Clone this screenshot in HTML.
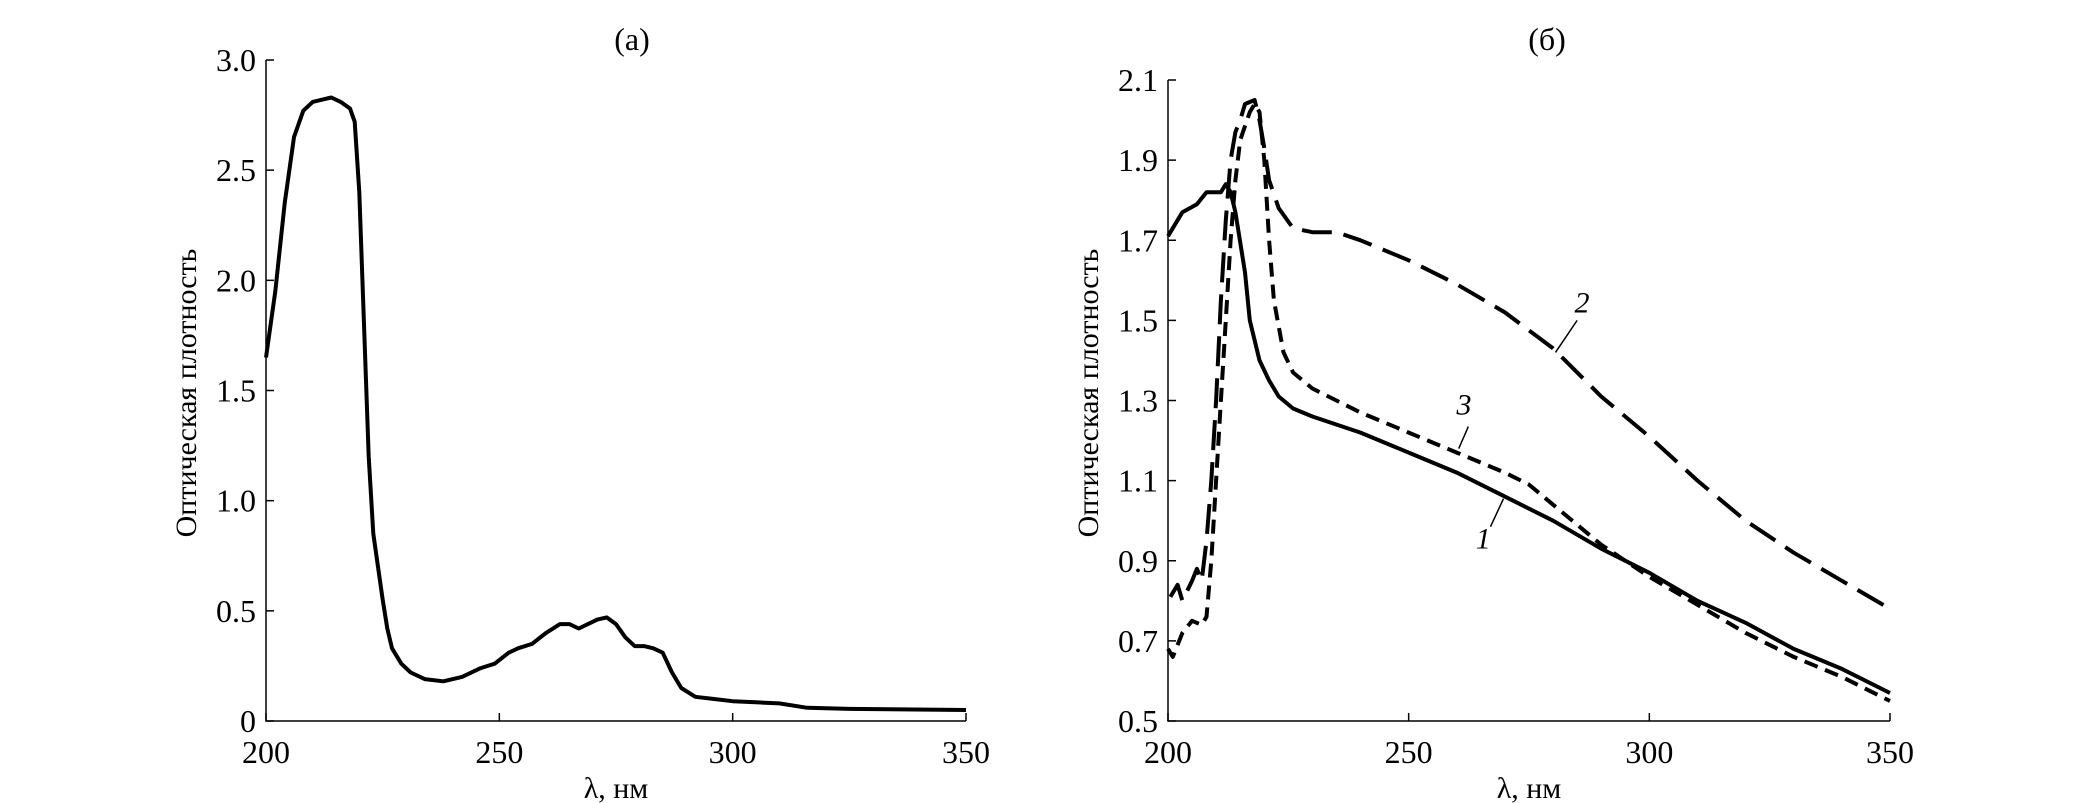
<!DOCTYPE html>
<html><head><meta charset="utf-8"><style>
html,body{margin:0;padding:0;background:#fff;}
svg{display:block;}
svg text{font-family:"Liberation Serif","DejaVu Serif",serif;}
</style></head><body>
<svg id="chart" width="2079" height="803" viewBox="0 0 2079 803" xmlns="http://www.w3.org/2000/svg" font-family="Liberation Serif, serif"></svg>
<script>
// Panel (a) data
const aX = [200,202,204,206,208,210,212,214,216,218,219,220,221,222,223,224,225,226,227,229,231,234,238,242,246,249,252,254,257,260,263,265,267,269,271,273,275,277,279,281,283,285,287,289,292,296,300,305,310,316,325,350];
const aY = [1.65,1.95,2.35,2.65,2.77,2.81,2.82,2.83,2.81,2.78,2.72,2.4,1.8,1.2,0.85,0.7,0.55,0.42,0.33,0.26,0.22,0.19,0.18,0.2,0.24,0.26,0.31,0.33,0.35,0.4,0.44,0.44,0.42,0.44,0.46,0.47,0.44,0.38,0.34,0.34,0.33,0.31,0.22,0.15,0.11,0.1,0.09,0.085,0.08,0.06,0.055,0.05];
const aYTicks = [0,0.5,1.0,1.5,2.0,2.5,3.0];
const aYLabels = ["0","0.5","1.0","1.5","2.0","2.5","3.0"];
const xTicks = [200,250,300,350];
// Panel (б) data
const c1X = [200,203,206,208,211,212,213,214,216,217,219,221,223,226,230,240,250,260,270,280,290,300,310,320,330,340,350];
const c1Y = [1.71,1.77,1.79,1.82,1.82,1.84,1.82,1.77,1.62,1.5,1.4,1.35,1.31,1.28,1.26,1.22,1.17,1.12,1.06,1.0,0.93,0.87,0.8,0.745,0.68,0.63,0.57];
const c2X = [200.5,202,203,205,206,207,208,209,210,211,212,213,214,215,216,218,219,220,221,223,226,230,235,240,250,260,270,280,290,300,310,320,330,340,350];
const c2Y = [0.81,0.84,0.8,0.85,0.88,0.85,0.95,1.1,1.3,1.55,1.75,1.9,1.97,2.0,2.04,2.05,2.0,1.93,1.85,1.78,1.73,1.72,1.72,1.7,1.65,1.59,1.52,1.43,1.31,1.21,1.1,1.0,0.92,0.85,0.78];
const c3X = [200,201,203,205,207,208,209,210,211,212,213,214,215,217,218,219,220,221,222,224,226,230,240,250,260,270,275,280,290,300,310,320,330,340,350];
const c3Y = [0.68,0.66,0.72,0.75,0.74,0.76,0.9,1.1,1.3,1.5,1.7,1.85,1.95,2.02,2.04,2.02,1.9,1.7,1.55,1.42,1.37,1.33,1.27,1.22,1.17,1.12,1.09,1.04,0.94,0.86,0.79,0.72,0.66,0.61,0.55];
const bYTicks = [0.5,0.7,0.9,1.1,1.3,1.5,1.7,1.9,2.1];
const bYLabels = ["0.5","0.7","0.9","1.1","1.3","1.5","1.7","1.9","2.1"];

const svg = document.getElementById('chart');
const NS = 'http://www.w3.org/2000/svg';
const FF = 'Liberation Serif, DejaVu Serif, serif';
function mk(tag, attrs, parent){const e=document.createElementNS(NS,tag);for(const k in attrs)e.setAttribute(k,attrs[k]);if(tag==='text')e.setAttribute('font-family',FF);(parent||svg).appendChild(e);return e;}

function panel(p){
  const sx=v=>p.x0+(v-200)/150*(p.x1-p.x0);
  const sy=v=>p.y0-(v-p.ymin)/(p.ymax-p.ymin)*(p.y0-p.y1);
  const g=mk('g',{});
  
  
  const ax=mk('path',{d:`M${p.x0},${p.y1}V${p.y0}H${p.x1}`,stroke:'#000','stroke-width':1.5,fill:'none'},g);
  
  
  p.yt.forEach((v,i)=>{
    const t=mk('line',{x1:p.x0,x2:p.x0+8,y1:sy(v),y2:sy(v),stroke:'#000','stroke-width':1.5},g);
    
    
    const l=mk('text',{x:p.x0-10,y:sy(v)+11,'text-anchor':'end','font-size':32},g);
    l.textContent=p.yl[i];
    
    
  });
  xTicks.forEach(v=>{
    const t=mk('line',{x1:sx(v),x2:sx(v),y1:p.y0,y2:p.y0-8,stroke:'#000','stroke-width':1.5},g);
    
    
    const l=mk('text',{x:sx(v),y:p.y0+42,'text-anchor':'middle','font-size':32},g);
    l.textContent=String(v);
    
    
  });
  const xt=mk('text',{x:(p.x0+p.x1)/2,y:798,'text-anchor':'middle','font-size':30},g);
  xt.textContent='λ, нм';
  
  
  const yt=mk('text',{x:0,y:0,'text-anchor':'middle','font-size':30,transform:`translate(${p.ylx},393) rotate(-90)`},g);
  yt.textContent='Оптическая плотность';
  
  
  const ti=mk('text',{x:p.tx,y:50,'text-anchor':'middle','font-size':32},g);
  ti.textContent=p.title;
  
  
  p.series.forEach(s=>{
    const d=s.x.map((v,i)=>(i?'L':'M')+sx(v).toFixed(1)+','+sy(s.y[i]).toFixed(1)).join('');
    const pa=mk('path',{d,stroke:'#000','stroke-width':4,fill:'none','stroke-linejoin':'round','stroke-dasharray':s.dash},g);
    
    
  });
  (p.labels||[]).forEach(L=>{
    const ln=mk('line',{x1:sx(L.lx1),y1:sy(L.ly1),x2:sx(L.lx2),y2:sy(L.ly2),stroke:'#000','stroke-width':1.5},g);
    
    
    const t=mk('text',{x:sx(L.x),y:sy(L.y),'text-anchor':'middle','font-size':30,'font-style':'italic'},g);
    t.textContent=L.t;
    
    
  });
}
panel({name:'panel-a',x0:266,x1:966,y0:721,y1:60,ymin:0,ymax:3,yt:aYTicks,yl:aYLabels,ylx:196,tx:632,title:'(а)',
  series:[{name:'curve-a',x:aX,y:aY,dash:'none'}]});
panel({name:'panel-b',x0:1168,x1:1890,y0:721,y1:80,ymin:0.5,ymax:2.1,yt:bYTicks,yl:bYLabels,ylx:1098,tx:1547,title:'(б)',
  series:[{name:'curve-1',x:c1X,y:c1Y,dash:'none'},{name:'curve-2',x:c2X,y:c2Y,dash:'30 12'},{name:'curve-3',x:c3X,y:c3Y,dash:'14 8'}],
  labels:[{t:'2',x:286,y:1.52,lx1:285,ly1:1.5,lx2:280.5,ly2:1.42},
          {t:'3',x:261.5,y:1.265,lx1:262.4,ly1:1.235,lx2:260.4,ly2:1.18},
          {t:'1',x:265.5,y:0.93,lx1:267,ly1:0.985,lx2:269.7,ly2:1.055}]});
</script>
</body></html>
